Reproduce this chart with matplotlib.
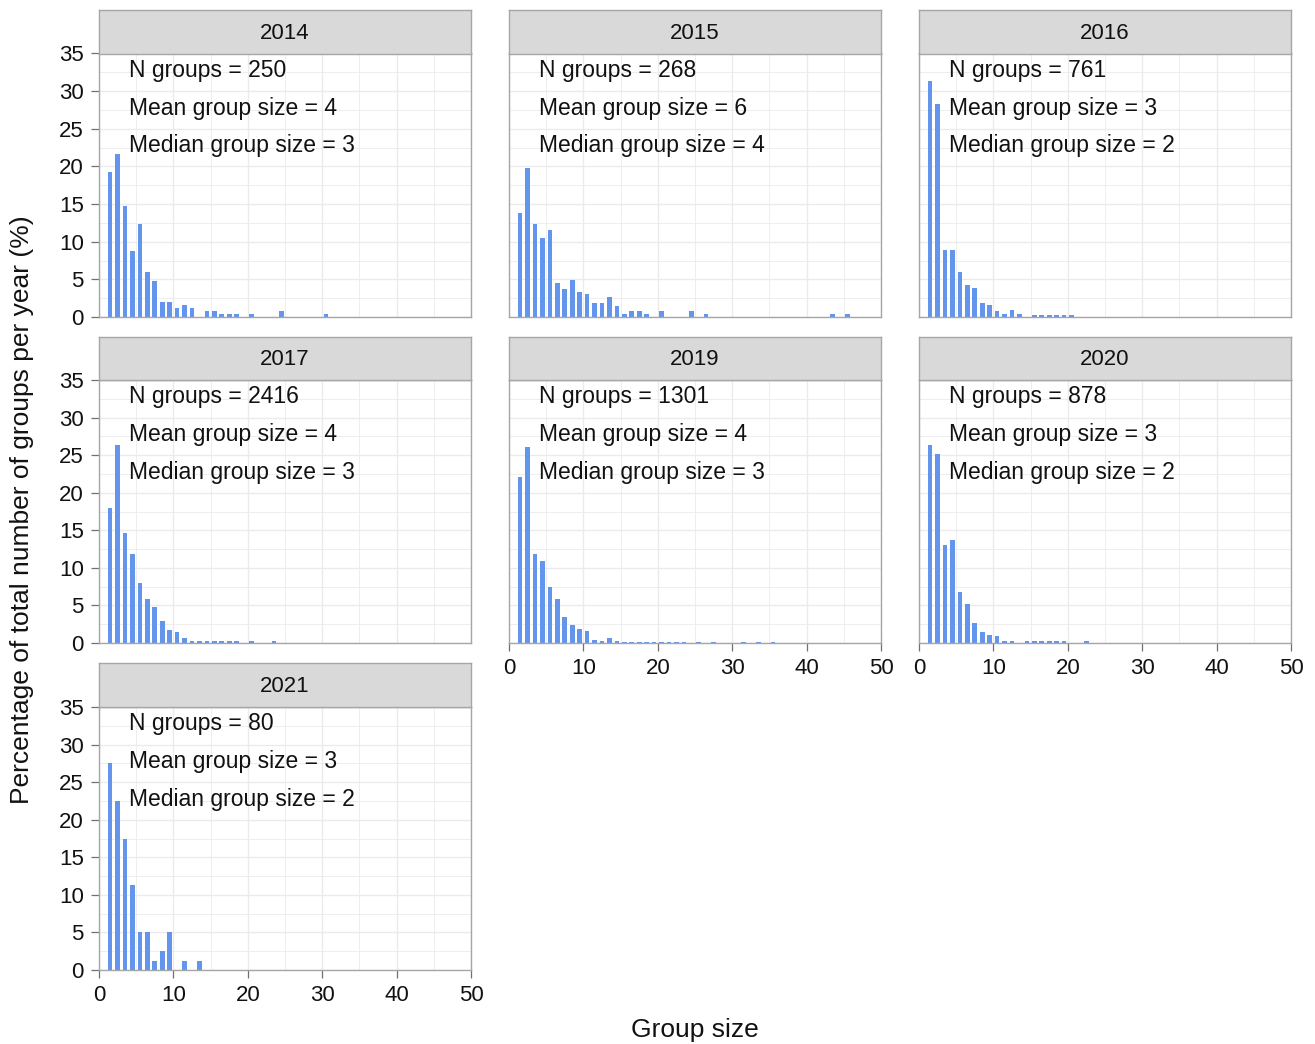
import matplotlib
matplotlib.use("Agg")
import matplotlib.pyplot as plt
import numpy as np

plt.rcParams["font.family"] = ["Liberation Sans", "DejaVu Sans"]

# percentage of groups by group size, one facet per year
years = ["2014", "2015", "2016", "2017", "2019", "2020", "2021"]

sizes_2014 = [1, 2, 3, 4, 5, 6, 7, 8, 9, 10, 11, 12, 14, 15, 16, 17, 18, 20, 24, 30]
pct_2014 = [19.2, 21.6, 14.8, 8.8, 12.4, 6.0, 4.8, 2.0, 2.0, 1.2, 1.6, 1.2,
            0.8, 0.8, 0.4, 0.4, 0.4, 0.4, 0.8, 0.4]

sizes_2015 = [1, 2, 3, 4, 5, 6, 7, 8, 9, 10, 11, 12, 13, 14, 15, 16, 17, 18,
              20, 24, 26, 43, 45]
pct_2015 = [13.81, 19.78, 12.31, 10.45, 11.57, 4.48, 3.73, 4.85, 3.36, 2.99,
            1.87, 1.87, 2.61, 1.49, 0.37, 0.75, 0.75, 0.37, 0.75, 0.75, 0.37,
            0.37, 0.37]

sizes_2016 = [1, 2, 3, 4, 5, 6, 7, 8, 9, 10, 11, 12, 13, 15, 16, 17, 18, 19, 20]
pct_2016 = [31.4, 28.3, 8.9, 8.9, 6.0, 4.2, 3.9, 1.8, 1.6, 0.8, 0.4, 0.9, 0.4,
            0.26, 0.26, 0.26, 0.26, 0.26, 0.26]

sizes_2017 = [1, 2, 3, 4, 5, 6, 7, 8, 9, 10, 11, 12, 13, 14, 15, 16, 17, 18,
              20, 23]
pct_2017 = [18.0, 26.3, 14.6, 11.8, 8.0, 5.8, 4.8, 2.9, 1.7, 1.4, 0.6, 0.2,
            0.2, 0.2, 0.2, 0.2, 0.2, 0.2, 0.2, 0.2]

sizes_2019 = [1, 2, 3, 4, 5, 6, 7, 8, 9, 10, 11, 12, 13, 14, 15, 16, 17, 18,
              19, 20, 21, 22, 23, 25, 27, 31, 33, 35]
pct_2019 = [22.1, 26.1, 11.9, 10.9, 7.4, 5.8, 3.5, 2.4, 1.8, 1.6, 0.4, 0.3,
            0.6, 0.3, 0.15, 0.15, 0.15, 0.15, 0.15, 0.15, 0.15, 0.15, 0.15,
            0.15, 0.15, 0.15, 0.15, 0.15]

sizes_2020 = [1, 2, 3, 4, 5, 6, 7, 8, 9, 10, 11, 12, 14, 15, 16, 17, 18, 19, 22]
pct_2020 = [26.4, 25.2, 13.0, 13.7, 6.8, 5.2, 2.6, 1.4, 1.0, 0.9, 0.3, 0.3,
            0.2, 0.2, 0.2, 0.2, 0.2, 0.2, 0.2]

sizes_2021 = [1, 2, 3, 4, 5, 6, 7, 8, 9, 11, 13]
pct_2021 = [27.5, 22.5, 17.5, 11.25, 5.0, 5.0, 1.25, 2.5, 5.0, 1.25, 1.25]

n_groups = [250, 268, 761, 2416, 1301, 878, 80]
mean_size = [4, 6, 3, 4, 4, 3, 3]
median_size = [3, 4, 2, 3, 3, 2, 2]

sizes = [sizes_2014, sizes_2015, sizes_2016, sizes_2017, sizes_2019, sizes_2020, sizes_2021]
pcts = [pct_2014, pct_2015, pct_2016, pct_2017, pct_2019, pct_2020, pct_2021]

W, H = 1315, 1044
fig = plt.figure(figsize=(W / 100, H / 100), dpi=100)


def rect(x0, y0, x1, y1):
    return [x0 / W, 1 - y1 / H, (x1 - x0) / W, (y1 - y0) / H]


cols = [(99, 471), (509, 881), (919, 1291)]
rows = [(10, 53.5, 317), (337, 380, 643), (663, 707, 970)]
# (row, col) of each facet
slots = [(0, 0), (0, 1), (0, 2), (1, 0), (1, 1), (1, 2), (2, 0)]
bottom_axis = [False, False, False, False, True, True, True]

border = "#A6A6A6"
grid = "#EBEBEB"
bar_col = "#6495ED"

for k, yr in enumerate(years):
    r, c = slots[k]
    x0, x1 = cols[c]
    st, pt, pb = rows[r]

    ax = fig.add_axes(rect(x0, pt, x1, pb))
    ax.set_xlim(0, 50)
    ax.set_ylim(0, 35)
    ax.set_xticks(np.arange(0, 51, 10))
    ax.set_xticks(np.arange(5, 50, 10), minor=True)
    ax.set_yticks(np.arange(0, 36, 5))
    ax.set_yticks(np.arange(2.5, 35, 5), minor=True)
    ax.grid(True, which="major", color=grid, lw=1.0, zorder=0)
    ax.grid(True, which="minor", color=grid, lw=0.6, zorder=0)
    ax.set_axisbelow(True)
    for s in ax.spines.values():
        s.set_color(border)
        s.set_linewidth(1.0)

    ax.bar(np.array(sizes[k]) + 0.5, pcts[k], width=0.62, color=bar_col,
           linewidth=0, zorder=2)

    ax.tick_params(which="minor", length=0)
    ax.tick_params(which="major", color="#707070", width=0.9, length=6,
                   labelsize=16, labelcolor="#111111", pad=5)
    if c != 0:
        ax.tick_params(axis="y", left=False, labelleft=False)
    if not bottom_axis[k]:
        ax.tick_params(axis="x", bottom=False, labelbottom=False)

    tx = dict(fontsize=16.5, color="#111111", ha="left", va="center")
    ax.text(4, 32.75, f"N groups = {n_groups[k]}", **tx)
    ax.text(4, 27.75, f"Mean group size = {mean_size[k]}", **tx)
    ax.text(4, 22.75, f"Median group size = {median_size[k]}", **tx)

    sax = fig.add_axes(rect(x0, st, x1, pt))
    sax.set_facecolor("#D9D9D9")
    sax.set_xticks([])
    sax.set_yticks([])
    for s in sax.spines.values():
        s.set_color(border)
        s.set_linewidth(1.0)
    sax.text(0.5, 0.47, yr, transform=sax.transAxes, ha="center", va="center",
             fontsize=16, color="#111111")

fig.text(695 / W, 1 - 1030 / H, "Group size", ha="center", va="center",
         fontsize=19, color="#111111")
fig.text(22 / W, 1 - 510 / H, "Percentage of total number of groups per year (%)",
         ha="center", va="center", rotation=90, fontsize=19, color="#111111")

fig.savefig("out.png", dpi=100)
